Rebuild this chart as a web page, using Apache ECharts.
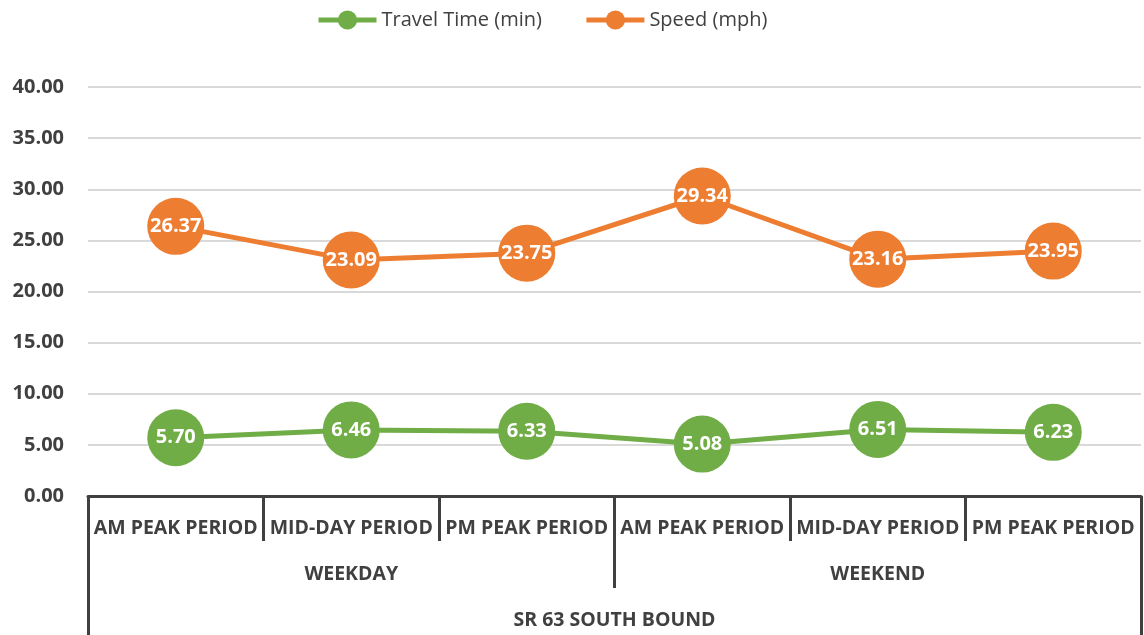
<!DOCTYPE html>
<html>
<head>
<meta charset="utf-8">
<script src="https://cdn.jsdelivr.net/npm/echarts@6/dist/echarts.min.js"></script>
<style>
  html, body { margin: 0; padding: 0; background: #fff; }
  #chart { width: 1144px; height: 635px; }
</style>
</head>
<body>
<div id="chart"></div>
<script>
  var periods = ['AM PEAK PERIOD', 'MID-DAY PERIOD', 'PM PEAK PERIOD', 'AM PEAK PERIOD', 'MID-DAY PERIOD', 'PM PEAK PERIOD'];
  var dayTypes = ['WEEKDAY', 'WEEKEND'];
  var direction = ['SR 63 SOUTH BOUND'];
  var travelTime = [5.70, 6.46, 6.33, 5.08, 6.51, 6.23];
  var speed = [26.37, 23.09, 23.75, 29.34, 23.16, 23.95];

  var font = '"Open Sans", sans-serif';
  var dark = '#404040';

  var chart = echarts.init(document.getElementById('chart'));

  function levelAxis(data, tickLen, margin) {
    return {
      type: 'category',
      data: data,
      position: 'bottom',
      gridIndex: 0,
      boundaryGap: true,
      axisLine: {show: false},
      axisTick: {show: true, length: tickLen, lineStyle: {color: dark, width: 3}},
      axisLabel: {
        interval: 0, margin: margin, color: dark,
        fontFamily: font, fontWeight: 'bold', fontSize: 19.5
      },
      splitLine: {show: false}
    };
  }

  var periodAxis = levelAxis(periods, 45, 22);
  periodAxis.axisLine = {show: true, lineStyle: {color: dark, width: 3}};

  chart.setOption({
    animation: false,
    textStyle: {fontFamily: font},
    legend: {
      top: 5,
      left: 311,
      itemWidth: 58,
      itemHeight: 24,
      itemGap: 42,
      lineStyle: {width: 5},
      textStyle: {color: dark, fontSize: 20, fontFamily: font},
      data: ['Travel Time (min)', 'Speed (mph)']
    },
    grid: {left: 88, right: 3, top: 87, bottom: 139, containLabel: false},
    xAxis: [
      periodAxis,
      levelAxis(dayTypes, 92, 68),
      levelAxis(direction, 139, 114)
    ],
    yAxis: {
      type: 'value',
      min: 0,
      max: 40,
      interval: 5,
      axisLine: {show: false},
      axisTick: {show: false},
      axisLabel: {
        margin: 24, color: dark, fontFamily: font, fontWeight: 'bold', fontSize: 20,
        formatter: function (v) { return v.toFixed(2); }
      },
      splitLine: {lineStyle: {color: '#d9d9d9', width: 2}}
    },
    series: [
      {
        name: 'Travel Time (min)',
        type: 'line',
        data: travelTime,
        symbol: 'circle',
        symbolSize: 57,
        itemStyle: {color: '#70ad47'},
        lineStyle: {color: '#70ad47', width: 5},
        label: {
          show: true, position: 'inside', color: '#fff', fontWeight: 'bold', fontSize: 20,
          fontFamily: font, formatter: function (p) { return p.value.toFixed(2); }
        }
      },
      {
        name: 'Speed (mph)',
        type: 'line',
        data: speed,
        symbol: 'circle',
        symbolSize: 57,
        itemStyle: {color: '#ed7d31'},
        lineStyle: {color: '#ed7d31', width: 5},
        label: {
          show: true, position: 'inside', color: '#fff', fontWeight: 'bold', fontSize: 20,
          fontFamily: font, formatter: function (p) { return p.value.toFixed(2); }
        }
      }
    ]
  });
</script>
</body>
</html>
